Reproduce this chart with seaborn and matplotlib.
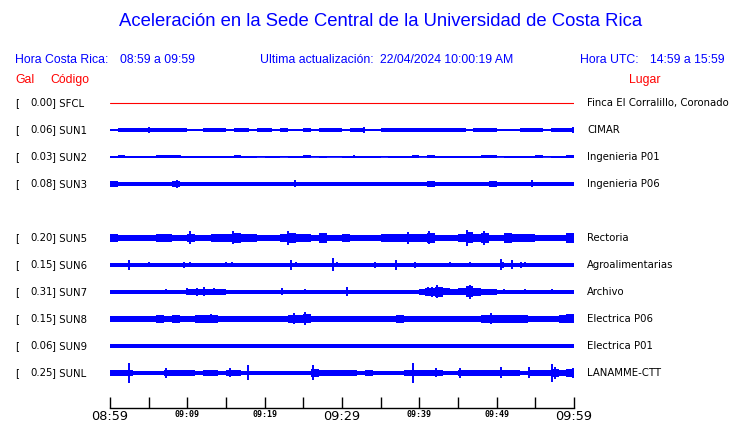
import numpy as np
import pandas as pd
import matplotlib
matplotlib.use("Agg")
import matplotlib.pyplot as plt
import seaborn as sns

# ---------------- data ----------------
codes = ["SFCL", "SUN1", "SUN2", "SUN3", "SUN5", "SUN6", "SUN7", "SUN8", "SUN9", "SUNL"]
gal = [0.00, 0.06, 0.03, 0.08, 0.20, 0.15, 0.31, 0.15, 0.06, 0.25]
places = ["Finca El Corralillo, Coronado", "CIMAR", "Ingenieria P01", "Ingenieria P06",
          "Rectoria", "Agroalimentarias", "Archivo", "Electrica P06", "Electrica P01",
          "LANAMME-CTT"]
tick_labels = ["08:59", "09:09", "09:19", "09:29", "09:39", "09:49", "09:59"]
major_labels = ["08:59", "09:29", "09:59"]

# per-minute half amplitude of each trace (minutes 0..59 after 08:59)
env_SFCL = [0.0] * 60
env_SUN1 = [1.4, 1.8, 1.8, 1.8, 1.6, 1.8, 1.8, 1.8, 1.6, 1.8, 1.4, 1.4, 1.8, 1.8, 1.8,
            1.4, 1.6, 1.6, 1.2, 1.8, 1.8, 1.4, 1.6, 1.2, 1.2, 1.6, 1.2, 1.8, 1.8, 1.8,
            1.4, 1.8, 1.8, 1.4, 1.4, 1.6, 1.8, 1.8, 1.8, 1.8, 1.8, 1.8, 1.8, 1.8, 1.8,
            1.8, 1.4, 1.8, 1.8, 1.6, 1.4, 1.4, 1.4, 1.8, 1.8, 1.8, 1.2, 1.8, 1.8, 1.8]
env_SUN2 = [1.2, 1.5, 1.2, 0.8, 1.0, 0.8, 1.5, 1.5, 1.5, 1.0, 0.8, 0.8, 1.0, 0.8, 0.8,
            1.2, 1.5, 0.8, 0.8, 0.5, 0.8, 0.8, 0.5, 1.2, 1.0, 1.5, 0.5, 1.0, 0.5, 0.5,
            0.8, 1.2, 1.0, 1.0, 0.8, 0.5, 1.2, 0.8, 0.8, 1.5, 0.5, 1.5, 1.0, 1.2, 0.8,
            0.8, 0.8, 1.0, 1.5, 1.5, 0.5, 0.8, 0.8, 0.8, 0.8, 1.5, 0.5, 0.8, 1.0, 1.5]
env_SUN3 = [2.6, 2.4, 2.4, 1.8, 2.2, 1.8, 2.4, 2.4, 2.6, 1.8, 2.2, 1.8, 1.8, 1.8, 1.8,
            2.4, 2.2, 1.8, 1.8, 1.8, 1.8, 1.8, 1.8, 2.4, 1.8, 2.4, 1.8, 1.8, 1.8, 1.8,
            2.2, 2.2, 1.8, 1.8, 2.4, 1.8, 2.4, 1.8, 1.8, 2.4, 2.4, 2.6, 1.8, 1.8, 2.2,
            2.2, 1.8, 2.2, 2.4, 2.6, 2.2, 2.2, 1.8, 1.8, 2.4, 2.2, 1.8, 1.8, 2.4, 2.4]
env_SUN5 = [3.8, 3.4, 3.0, 2.6, 2.6, 2.6, 3.8, 4.2, 3.4, 3.4, 4.2, 3.0, 3.0, 3.8, 4.2,
            4.2, 4.6, 4.2, 4.2, 3.4, 3.4, 3.4, 4.2, 4.6, 4.2, 3.8, 3.4, 4.6, 3.4, 3.4,
            3.8, 3.4, 3.4, 3.4, 3.4, 3.8, 3.8, 3.8, 4.2, 3.8, 3.8, 4.6, 3.4, 3.4, 3.4,
            3.8, 5.5, 3.8, 4.6, 3.4, 3.4, 4.6, 4.2, 3.8, 3.8, 3.4, 3.4, 3.4, 3.4, 4.6]
env_SUN6 = [2.0, 2.0, 2.0, 2.0, 2.0, 2.0, 2.0, 2.0, 2.0, 2.0, 2.0, 2.0, 2.0, 2.0, 2.0,
            2.0, 2.0, 2.0, 2.0, 2.0, 2.0, 2.0, 2.0, 2.0, 2.0, 2.0, 2.0, 2.0, 2.0, 2.0,
            2.0, 2.0, 2.0, 2.0, 2.0, 2.0, 2.0, 2.0, 2.0, 2.0, 2.0, 2.0, 2.0, 2.0, 2.0,
            2.0, 2.0, 2.0, 2.0, 2.0, 2.0, 2.0, 2.0, 2.0, 2.0, 2.0, 2.0, 2.0, 2.0, 2.0]
env_SUN7 = [2.0, 2.0, 2.0, 2.0, 2.0, 2.0, 2.0, 2.0, 2.0, 2.0, 2.6, 3.0, 3.0, 2.6, 2.6,
            1.6, 2.0, 2.0, 2.0, 2.0, 2.0, 2.0, 2.0, 2.0, 2.0, 2.0, 2.0, 2.0, 2.0, 2.0,
            2.0, 2.0, 2.0, 2.0, 2.0, 2.0, 2.0, 1.6, 2.0, 2.0, 2.6, 4.0, 5.0, 3.5, 3.0,
            3.5, 5.5, 4.0, 3.0, 3.0, 2.2, 2.0, 2.0, 2.0, 2.0, 2.0, 2.0, 2.0, 2.0, 2.0]
env_SUN8 = [3.2, 3.2, 3.2, 3.2, 2.8, 2.8, 3.6, 2.8, 3.6, 2.8, 2.8, 3.6, 3.6, 3.6, 2.8,
            3.2, 3.2, 3.2, 2.8, 2.8, 3.2, 2.8, 2.8, 4.0, 4.0, 4.5, 3.2, 3.2, 3.2, 3.2,
            3.2, 3.2, 2.8, 2.8, 2.8, 2.8, 3.2, 3.6, 3.2, 3.2, 3.2, 3.2, 2.8, 2.8, 2.8,
            2.8, 2.8, 3.2, 4.0, 4.0, 3.6, 3.6, 3.6, 3.6, 3.2, 3.2, 3.2, 3.2, 3.6, 4.5]
env_SUN9 = [1.8, 1.8, 1.8, 1.8, 1.8, 1.8, 1.8, 1.8, 1.9, 1.9, 1.9, 1.9, 1.9, 1.9, 1.9,
            1.9, 1.9, 1.9, 1.9, 1.9, 1.9, 1.9, 1.9, 1.9, 2.0, 1.9, 1.9, 1.9, 1.9, 1.9,
            1.9, 1.9, 1.9, 1.9, 1.9, 1.9, 1.9, 1.9, 1.9, 1.9, 1.9, 1.9, 1.9, 1.9, 1.9,
            1.9, 1.9, 1.9, 1.9, 1.9, 1.9, 1.9, 1.9, 1.9, 1.9, 1.9, 1.9, 1.9, 1.9, 1.9]
env_SUNL = [2.6, 2.6, 2.6, 2.2, 2.2, 2.2, 2.2, 3.4, 3.0, 2.6, 2.6, 2.2, 2.6, 2.6, 2.2,
            3.4, 2.6, 2.2, 2.2, 2.2, 2.2, 2.2, 2.2, 2.2, 2.2, 2.2, 4.2, 2.6, 2.6, 2.6,
            2.6, 3.0, 2.2, 3.0, 2.2, 2.2, 2.2, 2.2, 3.0, 2.6, 3.0, 3.0, 3.0, 2.2, 2.2,
            3.4, 2.6, 3.4, 3.0, 3.0, 2.6, 3.0, 2.6, 2.2, 3.4, 2.6, 2.6, 3.8, 3.4, 3.8]

# isolated peaks: (minute, half amplitude)
spk_SFCL = []
spk_SUN1 = [(5.0, 3.0), (12.6, 2.0), (28.2, 2.0), (32.8, 3.0), (36.1, 2.0), (59.9, 3.0)]
spk_SUN2 = [(9.0, 1.5), (31.6, 1.5), (41.2, 1.5)]
spk_SUN3 = [(8.6, 4.0), (23.9, 3.5), (54.6, 3.5)]
spk_SUN5 = [(10.4, 6.5), (15.9, 6.5), (23.0, 7.0), (38.5, 6.0), (41.3, 6.5), (46.1, 8.0),
            (48.4, 7.0)]
spk_SUN6 = [(2.4, 5.0), (5.0, 2.5), (9.6, 3.0), (10.3, 2.5), (15.0, 2.5), (15.8, 2.5),
            (20.0, 2.0), (22.8, 2.0), (23.4, 5.0), (24.0, 2.5), (28.8, 6.5), (29.4, 2.5),
            (30.7, 2.0), (32.2, 2.0), (34.3, 3.0), (37.0, 5.0), (37.4, 2.0), (39.5, 3.0),
            (40.6, 2.0), (44.0, 2.5), (46.5, 2.5), (50.5, 5.5), (50.8, 3.0), (52.0, 4.5),
            (53.1, 3.0), (53.7, 2.5), (55.3, 2.0), (56.2, 2.0), (57.2, 2.0)]
spk_SUN7 = [(0.2, 2.0), (1.5, 2.0), (5.6, 2.0), (6.5, 2.0), (7.2, 2.5), (8.7, 2.0),
            (10.0, 3.5), (11.2, 4.0), (12.1, 4.5), (13.5, 3.5), (14.5, 3.0), (17.0, 2.0),
            (18.1, 2.0), (19.6, 2.0), (21.0, 2.0), (22.2, 3.5), (22.7, 2.0), (24.2, 2.0),
            (25.2, 2.5), (28.2, 2.0), (30.6, 4.5), (31.0, 2.0), (32.3, 2.0), (35.5, 2.0),
            (39.1, 2.0), (40.8, 4.0), (41.1, 4.5), (41.7, 5.0), (42.3, 6.5), (46.5, 7.0),
            (51.0, 2.5), (52.3, 2.0), (53.6, 2.5), (55.5, 2.0), (57.2, 2.5)]
spk_SUN8 = [(13.0, 4.5), (23.8, 5.5), (25.2, 6.5), (49.3, 5.5)]
spk_SUN9 = []
spk_SUNL = [(2.45, 10.0), (7.2, 5.0), (15.5, 4.5), (17.8, 7.5), (26.3, 7.5), (39.2, 10.0),
            (42.2, 4.5), (45.2, 5.0), (50.5, 5.5), (54.2, 5.5), (57.2, 9.0), (57.5, 6.0),
            (59.9, 5.0)]

envs = [env_SFCL, env_SUN1, env_SUN2, env_SUN3, env_SUN5, env_SUN6, env_SUN7, env_SUN8,
        env_SUN9, env_SUNL]
spks = [spk_SFCL, spk_SUN1, spk_SUN2, spk_SUN3, spk_SUN5, spk_SUN6, spk_SUN7, spk_SUN8,
        spk_SUN9, spk_SUNL]

# ---------------- figure ----------------
sns.set_theme(style="white")
plt.rcParams["font.family"] = ["DejaVu Sans"]
W, H = 740, 423
fig = plt.figure(figsize=(W / 100, H / 100), dpi=100)
fig.patch.set_facecolor("white")

# axes expressed in pixel layout: x 110..574, y 90..408 (top down)
ax_left, ax_right, ax_top, ax_bot = 110, 574, 90, 408
ax = fig.add_axes([ax_left / W, 1 - ax_bot / H, (ax_right - ax_left) / W, (ax_bot - ax_top) / H])
ax.set_xlim(0, 60)
ax.set_ylim(ax_bot, ax_top)  # data y in pixels from top
ax.set_facecolor("white")

BLUE = "#0000FF"
RED = "#FF0000"
row_y0, row_dy = 103, 27
lab_fs = 7.3

minutes = np.arange(61)
for i, code in enumerate(codes):
    slot = i + (1 if i >= 4 else 0)
    yc = row_y0 + row_dy * slot
    env = np.array(envs[i] + [envs[i][-1]])
    df = pd.DataFrame({"t": minutes, "y": np.full(61, yc)})
    color = RED if code == "SFCL" else BLUE
    sns.lineplot(data=df, x="t", y="y", ax=ax, color=color, lw=0.8 if code == "SFCL" else 1.2,
                 legend=False)
    if env.max() > 0:
        ax.fill_between(minutes, yc - env, yc + env, step="post", color=BLUE, lw=0)
    for t, a in spks[i]:
        ax.vlines(t, yc - a, yc + a, color=BLUE, lw=1.4)

    # left label
    fig.text(15 / W, 1 - yc / H, "[", fontsize=lab_fs, va="center", ha="left", color="black")
    fig.text(52.5 / W, 1 - yc / H, f"{gal[i]:.2f}", fontsize=lab_fs, va="center", ha="right",
             color="black")
    fig.text(52.5 / W, 1 - yc / H, f"] {code}", fontsize=lab_fs, va="center", ha="left",
             color="black")
    fig.text(587 / W, 1 - yc / H, places[i], fontsize=lab_fs, va="center", ha="left",
             color="black")

ax.set_xlabel("")
ax.set_ylabel("")

# time axis
for s in ["left", "right", "top"]:
    ax.spines[s].set_visible(False)
ax.spines["bottom"].set_color("black")
ax.spines["bottom"].set_linewidth(1.0)
ax.set_yticks([])
ax.set_xticks(np.arange(0, 61, 5), minor=True)
ax.set_xticks(np.arange(0, 61, 10))
ax.set_xticklabels(tick_labels)
ax.tick_params(axis="x", which="both", direction="in", length=8, width=1, color="black",
               bottom=True, pad=1.5)
for lab in ax.get_xticklabels():
    if lab.get_text() in major_labels:
        lab.set_fontsize(9.3)
        lab.set_fontfamily("DejaVu Sans")
    else:
        lab.set_fontsize(6.0)
        lab.set_fontfamily("DejaVu Sans Mono")
        lab.set_fontweight("bold")
    lab.set_color("black")
ax.grid(False)

# header texts
hf = "Liberation Sans"
hs = 8.8
fig.text(381 / W, 1 - 22 / H, "Aceleración en la Sede Central de la Universidad de Costa Rica",
         fontsize=13.3, color=BLUE, ha="center", va="center", family=hf)
fig.text(15 / W, 1 - 60 / H, "Hora Costa Rica:", fontsize=hs, color=BLUE, va="center", family=hf)
fig.text(120 / W, 1 - 60 / H, "08:59 a 09:59", fontsize=hs, color=BLUE, va="center", family=hf)
fig.text(260 / W, 1 - 60 / H, "Ultima actualización:", fontsize=hs, color=BLUE, va="center",
         family=hf)
fig.text(380 / W, 1 - 60 / H, "22/04/2024 10:00:19 AM", fontsize=hs, color=BLUE, va="center",
         family=hf)
fig.text(580 / W, 1 - 60 / H, "Hora UTC:", fontsize=hs, color=BLUE, va="center", family=hf)
fig.text(650 / W, 1 - 60 / H, "14:59 a 15:59", fontsize=hs, color=BLUE, va="center", family=hf)
fig.text(15 / W, 1 - 80 / H, "Gal", fontsize=hs, color=RED, va="center", family=hf)
fig.text(50 / W, 1 - 80 / H, "Código", fontsize=hs, color=RED, va="center", family=hf)
fig.text(629 / W, 1 - 80 / H, "Lugar", fontsize=hs, color=RED, va="center", family=hf)

fig.savefig("out.png", dpi=100, facecolor="white")
